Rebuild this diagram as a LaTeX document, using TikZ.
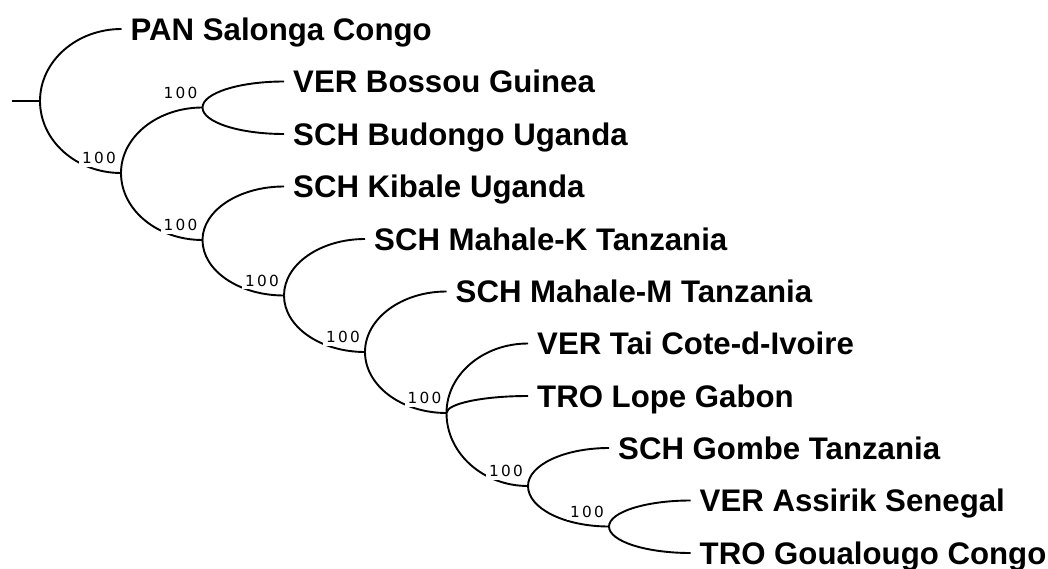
\documentclass[tikz,border=0pt]{standalone}
\usepackage{fontspec}
\setmainfont{Liberation Sans}
\newfontfamily\lblfont[LetterSpace=15]{DejaVu Sans}
\usetikzlibrary{calc}
\begin{document}
\begin{tikzpicture}[x=1pt,y=-1pt,
  edge/.style={line width=1.9pt, line cap=butt},
  arcto/.style={to path={let \p1=(\tikztostart), \p2=(\tikztotarget) in
     .. controls (\x1,{\y1+0.5523*((\y2)-(\y1))}) and ({\x2-0.5523*((\x2)-(\x1))},\y2) .. (\tikztotarget)}},
  leaf/.style={anchor=base west, inner sep=0pt, xshift=9pt, yshift=-11.2pt,
     font=\fontsize{31.2}{31.2}\selectfont\bfseries},
  support/.style={anchor=south east, xshift=-2pt, yshift=6pt, fill=white,
     inner sep=3pt, font=\lblfont\fontsize{15.3}{15.3}\selectfont}]
\useasboundingbox (0,0) rectangle (1048,569);
% internal nodes
\coordinate (stub) at (12,101);
\coordinate (root) at (40,101);
\coordinate (n1) at (121,173);
\coordinate (n2) at (202.5,107.5);
\coordinate (n3) at (202.5,240);
\coordinate (n4) at (284,295.5);
\coordinate (n5) at (365,352);
\coordinate (n6) at (446.5,413);
\coordinate (n7) at (528,486);
\coordinate (n8) at (609,526.5);
% tips
\coordinate (tpan) at (121.5,29);
\coordinate (tbos) at (284,81.5);
\coordinate (tbud) at (284,134);
\coordinate (tkib) at (284,186.5);
\coordinate (tmk) at (365,239);
\coordinate (tmm) at (446.5,291.5);
\coordinate (ttai) at (528,343.5);
\coordinate (tlop) at (528,396);
\coordinate (tgom) at (609,448);
\coordinate (tass) at (690.5,500.5);
\coordinate (tgou) at (690.5,553);
% edges
\draw[edge] (stub) -- (root);
\draw[edge] (root) to[arcto] (tpan);
\draw[edge] (root) to[arcto] (n1);
\draw[edge] (n1) to[arcto] (n2);
\draw[edge] (n1) to[arcto] (n3);
\draw[edge] (n2) to[arcto] (tbos);
\draw[edge] (n2) to[arcto] (tbud);
\draw[edge] (n3) to[arcto] (tkib);
\draw[edge] (n3) to[arcto] (n4);
\draw[edge] (n4) to[arcto] (tmk);
\draw[edge] (n4) to[arcto] (n5);
\draw[edge] (n5) to[arcto] (tmm);
\draw[edge] (n5) to[arcto] (n6);
\draw[edge] (n6) to[arcto] (ttai);
\draw[edge] (n6) to[arcto] (tlop);
\draw[edge] (n6) to[arcto] (n7);
\draw[edge] (n7) to[arcto] (tgom);
\draw[edge] (n7) to[arcto] (n8);
\draw[edge] (n8) to[arcto] (tass);
\draw[edge] (n8) to[arcto] (tgou);
% support values
\node[support] (s1) at (n1) {100};
\node[support] (s2) at (n2) {100};
\node[support] (s3) at (n3) {100};
\node[support] (s4) at (n4) {100};
\node[support] (s5) at (n5) {100};
\node[support] (s6) at (n6) {100};
\node[support] (s7) at (n7) {100};
\node[support] (s8) at (n8) {100};
% leaf labels
\node[leaf] (lpan) at (tpan) {PAN Salonga Congo};
\node[leaf] (lbos) at (tbos) {VER Bossou Guinea};
\node[leaf] (lbud) at (tbud) {SCH Budongo Uganda};
\node[leaf] (lkib) at (tkib) {SCH Kibale Uganda};
\node[leaf] (lmk) at (tmk) {SCH Mahale-K Tanzania};
\node[leaf] (lmm) at (tmm) {SCH Mahale-M Tanzania};
\node[leaf] (ltai) at (ttai) {VER Tai Cote-d-Ivoire};
\node[leaf] (llop) at (tlop) {TRO Lope Gabon};
\node[leaf] (lgom) at (tgom) {SCH Gombe Tanzania};
\node[leaf] (lass) at (tass) {VER Assirik Senegal};
\node[leaf] (lgou) at (tgou) {TRO Goualougo Congo};
\end{tikzpicture}
\end{document}
